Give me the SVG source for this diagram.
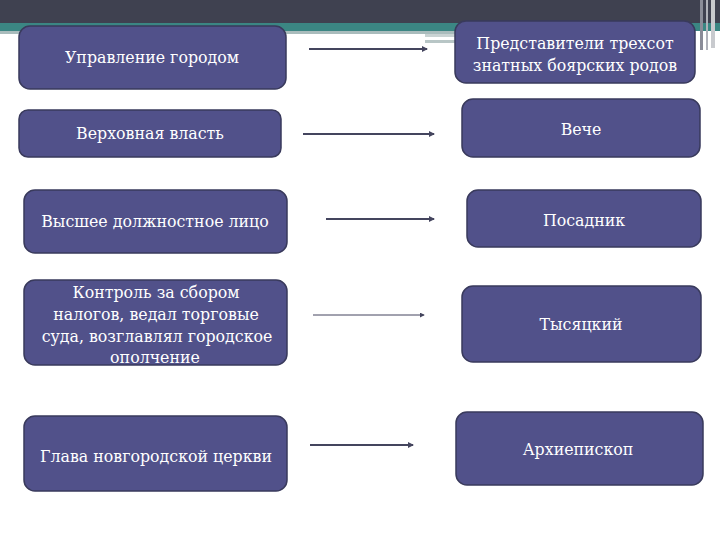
<svg xmlns="http://www.w3.org/2000/svg" width="720" height="540" viewBox="0 0 720 540">
<defs>
<style>
.box{fill:#51518a;stroke:#393a5c;stroke-width:1.5}
.t{font-family:"DejaVu Serif","Liberation Serif",serif;font-size:15.8px;fill:#ffffff;text-anchor:middle}
.c{stroke:#44455e;stroke-width:2;fill:none}
.c1{stroke:#44455e;stroke-width:1;fill:none}
</style>
<marker id="ah" viewBox="0 0 6 6" refX="5" refY="3" markerWidth="3" markerHeight="3" orient="auto" markerUnits="strokeWidth">
<path d="M0,0 L6,3 L0,6 z" fill="#44455e"/>
</marker>
<marker id="ah1" viewBox="0 0 6 6" refX="5" refY="3" markerWidth="5" markerHeight="5" orient="auto" markerUnits="strokeWidth">
<path d="M0,0 L6,3 L0,6 z" fill="#44455e"/>
</marker>
</defs>
<rect width="720" height="540" fill="#ffffff"/>
<g id="header">
<rect x="0" y="0" width="720" height="23" fill="#3f4150"/>
<rect x="0" y="23" width="460" height="8" fill="#3b8683"/>
<rect x="0" y="31" width="460" height="3" fill="#a9bcbc"/>
<rect x="425" y="34" width="35" height="3" fill="#c9d3d3"/>
<rect x="425" y="40" width="35" height="3" fill="#b8c6c6"/>
<rect x="690" y="23" width="30" height="8" fill="#3b8683"/>
<rect x="700" y="0" width="3" height="50" fill="#8a8c98"/>
<rect x="706" y="0" width="2" height="50" fill="#b0b2ba"/>
<rect x="711" y="0" width="4" height="48" fill="#c8cace"/>
</g>
<g id="connectors">
<line class="c" x1="309" y1="49" x2="427" y2="49" marker-end="url(#ah)"/>
<line class="c" x1="303" y1="134" x2="434" y2="134" marker-end="url(#ah)"/>
<line class="c" x1="326" y1="219" x2="434" y2="219" marker-end="url(#ah)"/>
<line class="c1" x1="313" y1="315" x2="424" y2="315" marker-end="url(#ah1)"/>
<line class="c" x1="310" y1="445" x2="413" y2="445" marker-end="url(#ah)"/>
</g>
<g id="n1"><rect class="box" x="19" y="26" width="267" height="63" rx="11"/><text class="t" x="152" y="63">Управление городом</text></g>
<g id="n2"><rect class="box" x="19" y="110" width="262" height="47" rx="9"/><text class="t" x="150" y="139">Верховная власть</text></g>
<g id="n3"><rect class="box" x="24" y="190" width="263" height="63" rx="11"/><text class="t" x="155" y="227">Высшее должностное лицо</text></g>
<g id="n4"><rect class="box" x="24" y="280" width="263" height="85" rx="11"/>
<text class="t" x="156" y="298">Контроль за сбором</text>
<text class="t" x="156" y="320">налогов, ведал торговые</text>
<text class="t" x="157" y="342">суда, возглавлял  городское</text>
<text class="t" x="155" y="363">ополчение</text></g>
<g id="n5"><rect class="box" x="24" y="416" width="263" height="75" rx="11"/><text class="t" x="156" y="462">Глава новгородской церкви</text></g>
<g id="r1"><rect class="box" x="455" y="21" width="240" height="62" rx="11"/>
<text class="t" x="575" y="49">Представители трехсот</text>
<text class="t" x="575" y="71">знатных боярских родов</text></g>
<g id="r2"><rect class="box" x="462" y="99" width="238" height="58" rx="11"/><text class="t" x="581" y="135">Вече</text></g>
<g id="r3"><rect class="box" x="467" y="190" width="234" height="57" rx="11"/><text class="t" x="584" y="226">Посадник</text></g>
<g id="r4"><rect class="box" x="462" y="286" width="239" height="76" rx="11"/><text class="t" x="581" y="330">Тысяцкий</text></g>
<g id="r5"><rect class="box" x="456" y="412" width="247" height="73" rx="11"/><text class="t" x="578" y="455">Архиепископ</text></g>
</svg>
